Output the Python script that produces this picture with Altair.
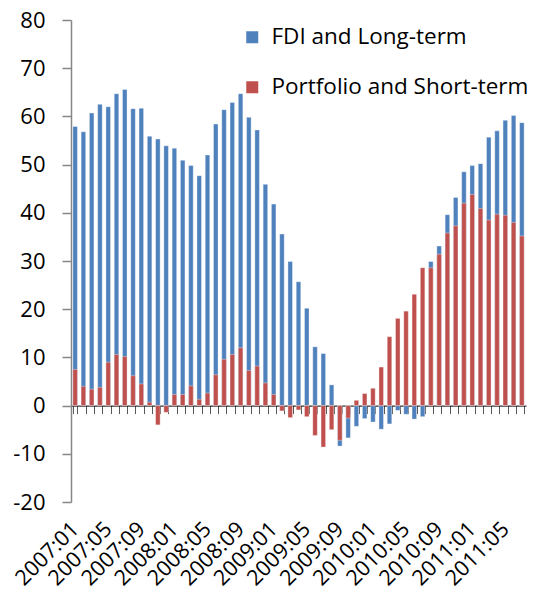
import altair as alt
import pandas as pd

months = [f"{y}:{m:02d}" for y in range(2007, 2012) for m in range(1, 13)][:55]
label_months = months[::4]

series_names = ["FDI and Long-term", "Portfolio and Short-term"]

fdi_long = [57.9, 56.8, 60.7, 62.5, 62.0, 64.7, 65.6, 61.6, 61.7, 55.9,
            55.3, 53.9, 53.4, 50.9, 49.8, 47.7, 52.0, 58.4, 61.4, 62.9,
            64.7, 59.8, 57.2, 45.9, 41.8, 35.6, 29.9, 25.7, 20.2, 12.2,
            10.8, 4.3, -8.4, -6.7, -4.3, -2.7, -3.4, -4.9, -3.8, -1.0,
            -1.8, -2.8, -2.3, 29.9, 33.1, 39.6, 43.2, 48.5, 49.8, 50.2,
            55.7, 57.0, 59.2, 60.2, 58.7]

portfolio_short = [7.5, 4.0, 3.4, 3.8, 9.0, 10.6, 10.2, 6.2, 4.5, 0.7,
                   -4.0, -1.4, 2.3, 2.3, 4.1, 1.3, 2.6, 6.4, 9.6, 10.6,
                   12.0, 7.3, 8.2, 4.7, 2.3, -1.1, -2.5, -0.9, -2.3, -6.2,
                   -8.6, -5.0, -7.2, -2.6, 1.1, 2.5, 3.6, 8.0, 14.3, 18.1,
                   19.6, 23.1, 28.6, 28.6, 31.4, 35.8, 37.3, 42.0, 43.8, 40.9,
                   38.5, 39.7, 39.5, 38.0, 35.2]

y_ticks = [-20, -10, 0, 10, 20, 30, 40, 50, 60, 70, 80]

df = pd.DataFrame({
    "month": months + months,
    "series": [series_names[0]] * len(months) + [series_names[1]] * len(months),
    "value": fdi_long + portfolio_short,
})

FONT = "Open Sans"
W, H = 455, 482

x_scale = alt.Scale(domain=months, paddingInner=0.45, paddingOuter=0.225)
y_scale = alt.Scale(domain=[-20, 80], nice=False, zero=False)

y_axis = alt.Axis(values=y_ticks, grid=False, domainColor="#868686", domainWidth=1.5,
                  tickColor="#868686", tickSize=9, tickWidth=1.5,
                  labelFontSize=22, labelFont=FONT, labelColor="black",
                  labelPadding=17, labelExpr="'' + datum.value", title=None)

zero_axis = alt.Axis(orient="bottom", offset=-H * 0.2, labels=False, domain=True,
                     domainColor="black", domainWidth=1, ticks=True, tickBand="extent",
                     tickSize=8, tickColor="#595959", tickWidth=1, title=None, grid=False)

label_axis = alt.Axis(orient="bottom", values=label_months, domain=False, ticks=False,
                      labelAngle=315, labelAlign="right", labelBaseline="top",
                      labelFontSize=21.5, labelFont=FONT, labelColor="black",
                      labelPadding=16, labelOffset=-7, labelOverlap=False,
                      title=None, grid=False)

color = alt.Color("series:N",
                  scale=alt.Scale(domain=series_names, range=["#4F81BD", "#C0504D"]),
                  legend=alt.Legend(title=None, orient="none", legendX=170, legendY=6,
                                    symbolType="square", symbolSize=144,
                                    symbolStrokeWidth=0, labelFontSize=22.5,
                                    labelFont=FONT, labelColor="black",
                                    labelOffset=8, rowPadding=27, padding=0,
                                    labelLimit=400))

base = alt.Chart(df)

blue = base.transform_filter(alt.datum.series == series_names[0]).mark_bar(
    stroke="white", strokeWidth=0.6, strokeOpacity=0.6
).encode(
    x=alt.X("month:O", scale=x_scale, sort=months, axis=zero_axis),
    y=alt.Y("value:Q", scale=y_scale, axis=y_axis),
    color=color,
)

red = base.transform_filter(alt.datum.series == series_names[1]).mark_bar(
    stroke="white", strokeWidth=0.6, strokeOpacity=0.6
).encode(
    x=alt.X("month:O", scale=x_scale, sort=months, axis=None),
    y=alt.Y("value:Q", scale=y_scale, axis=y_axis),
    color=color,
)

labels = base.transform_filter(alt.datum.series == series_names[0]).mark_bar(
    opacity=0
).encode(
    x=alt.X("month:O", scale=x_scale, sort=months, axis=label_axis),
    y=alt.Y("value:Q", scale=y_scale, axis=y_axis),
)

chart = alt.layer(blue, red, labels).resolve_axis(x="independent").properties(
    width=W, height=H,
    autosize=alt.AutoSizeParams(type="none"),
    padding={"left": 63, "top": 12, "right": 5, "bottom": 89},
).configure_view(stroke=None)

chart.save("out.html", embed_options={"renderer": "svg", "actions": False})
